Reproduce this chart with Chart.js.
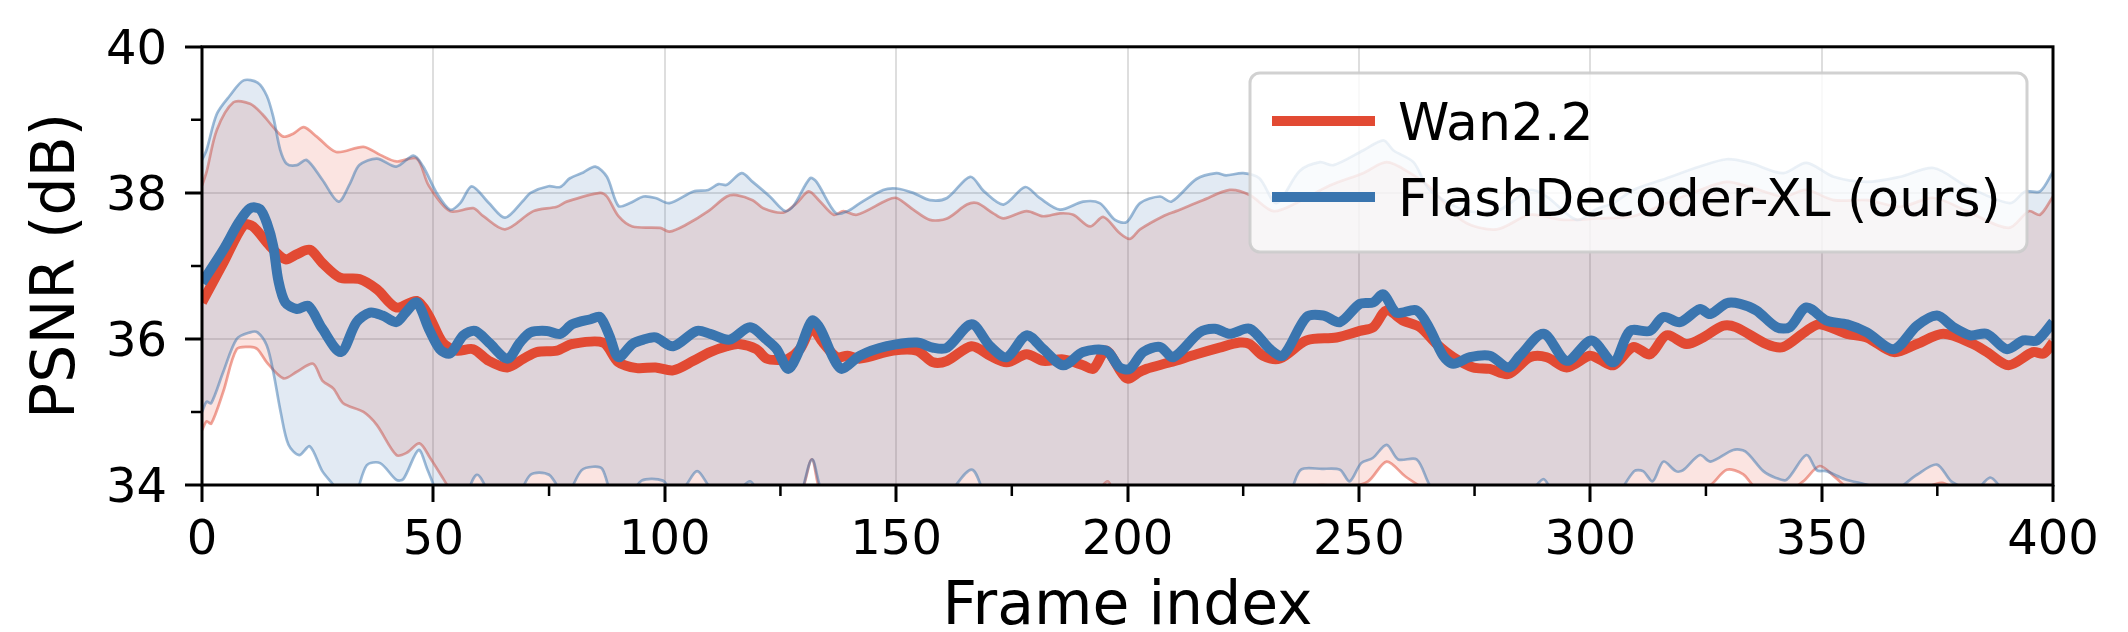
<!DOCTYPE html>
<html>
<head>
<meta charset="utf-8">
<script src="https://cdn.jsdelivr.net/npm/chart.js@4.4.1/dist/chart.umd.min.js"></script>
<style>
  html, body { margin: 0; padding: 0; background: #ffffff; }
  #wrap { width: 2128px; height: 632px; }
</style>
</head>
<body>
<div id="wrap"><canvas id="psnrChart" width="2128" height="632"></canvas></div>
<script>
// ---- data ----
const xTicks = [0, 50, 100, 150, 200, 250, 300, 350, 400];
const yTicks = [34, 36, 38, 40];

// Wan2.2 mean PSNR
const wanFrames = [0, 4.6, 9, 11, 14.7, 18, 20.5, 23.3, 26, 29.8, 34, 37.8, 42, 46.4, 49, 52, 55, 58.6, 62, 66,
  69.5, 72.3, 76.7, 80, 86.7, 90, 94, 98, 101.8, 106.2, 109.8, 113.4, 116, 119.8, 122, 124.5, 126.7, 129.2, 131.8, 134.2,
  137.2, 139.5, 142.2, 149.4, 154.5, 158, 161, 166.3, 170.3, 173.9, 178.2, 181.8, 186.1, 190.4, 192.6, 195.4, 199.8, 202.7, 204.1, 209.2,
  214.9, 219.9, 224.2, 226.4, 229.3, 232.9, 238.7, 245.2, 250.2, 253.1, 256, 259.6, 263.2, 266.8, 270.4, 274.7, 278.3, 282.3, 287, 290.6,
  294.9, 299.9, 302, 305, 309.3, 312.9, 316.5, 320.8, 324.4, 328.7, 331.5, 338.1, 341.7, 346.7, 349.6, 355.5, 359.8, 365.6, 370.6, 376.3,
  382.8, 385.7, 390.4, 395.7, 398, 400];
const wanMean = [36.5, 37.04, 37.56, 37.54, 37.27, 37.09, 37.16, 37.22, 37.04, 36.84, 36.82, 36.68, 36.43, 36.52, 36.32, 35.95, 35.84, 35.86, 35.7, 35.61,
  35.73, 35.82, 35.84, 35.93, 35.95, 35.68, 35.6, 35.61, 35.57, 35.7, 35.82, 35.9, 35.93, 35.86, 35.73, 35.71, 35.73, 35.86, 36.14, 35.95,
  35.75, 35.77, 35.73, 35.84, 35.84, 35.68, 35.7, 35.9, 35.77, 35.68, 35.79, 35.7, 35.72, 35.64, 35.59, 35.84, 35.46, 35.55, 35.59, 35.68,
  35.79, 35.88, 35.95, 35.93, 35.77, 35.73, 35.98, 36.02, 36.11, 36.16, 36.39, 36.25, 36.16, 35.93, 35.75, 35.61, 35.59, 35.52, 35.75, 35.75,
  35.61, 35.77, 35.72, 35.64, 35.89, 35.79, 36.05, 35.93, 36.02, 36.18, 36.16, 35.93, 35.89, 36.11, 36.2, 36.07, 36.02, 35.82, 35.93, 36.07,
  35.93, 35.82, 35.64, 35.82, 35.8, 35.95];

// FlashDecoder-XL mean PSNR
const oursFrames = [0, 4.6, 8, 10.4, 12.5, 14, 15.4, 16.5, 18, 20.5, 23, 26, 30, 33.4, 36.3, 39, 42, 44, 46.4, 49,
  51.4, 53.6, 56.5, 59, 62, 66, 68.7, 71, 74.5, 77.4, 80, 84, 86, 88, 90, 93, 95.4, 98, 101.8, 106.9,
  109.8, 114, 118.4, 122, 124.2, 126.7, 129.2, 131.8, 133.6, 136.5, 138.3, 142.2, 148, 154.5, 158, 161, 166.3, 170.3, 173.9, 178.2,
  181.8, 186.1, 190.4, 195.4, 198.3, 200.5, 203.4, 207, 209.9, 215.6, 218.9, 222.1, 226.4, 230.8, 233.6, 238.7, 242.3, 245.9, 250.2, 253.1,
  255.3, 258.1, 262.5, 265.3, 268.2, 270.4, 274, 278.3, 282.3, 284.8, 289.9, 294.9, 300.3, 305, 308.6, 312.9, 315.8, 319.4, 323.7, 325.9,
  329.5, 332.4, 335.9, 340.3, 343.1, 346.7, 351.1, 355.5, 359.8, 365.6, 370.6, 374.9, 378.5, 382.1, 385.7, 390, 393.6, 396.5, 400];
const oursMean = [36.77, 37.22, 37.6, 37.79, 37.78, 37.59, 37.27, 36.8, 36.5, 36.41, 36.45, 36.14, 35.82, 36.23, 36.36, 36.32, 36.23, 36.36, 36.5, 36.14,
  35.86, 35.8, 36.05, 36.11, 35.95, 35.73, 35.95, 36.09, 36.11, 36.07, 36.2, 36.27, 36.3, 36.05, 35.75, 35.93, 35.99, 36.02, 35.9, 36.11,
  36.07, 35.99, 36.16, 35.99, 35.86, 35.59, 35.86, 36.25, 36.14, 35.73, 35.59, 35.77, 35.9, 35.95, 35.88, 35.88, 36.2, 35.9, 35.75, 36.05,
  35.86, 35.64, 35.82, 35.84, 35.61, 35.59, 35.82, 35.89, 35.75, 36.09, 36.14, 36.07, 36.14, 35.86, 35.77, 36.3, 36.32, 36.23, 36.48, 36.5,
  36.61, 36.36, 36.39, 36.14, 35.77, 35.66, 35.75, 35.77, 35.61, 35.77, 36.07, 35.7, 35.98, 35.68, 36.11, 36.11, 36.3, 36.23, 36.41, 36.34,
  36.49, 36.48, 36.39, 36.16, 36.16, 36.43, 36.25, 36.2, 36.09, 35.86, 36.18, 36.32, 36.16, 36.05, 36.07, 35.86, 35.98, 35.98, 36.23];

// Wan2.2 band (upper / lower)
const wanHiFrames = [0, 1, 3.2, 6.8, 10.4, 13, 15.4, 17.6, 19.7, 22, 24.8, 29, 34.9, 38.5, 42, 46.4, 49, 53.6, 58.6, 60.8,
  65.5, 71.6, 76.7, 78.8, 86, 87.5, 90, 93, 99, 101, 104.5, 109.4, 113.4, 115.5, 119, 121.3, 125.6, 128.5, 131.1, 133.3,
  136.5, 138.6, 141.5, 148, 150.1, 153.7, 157.3, 161, 165.3, 167.5, 171, 173.2, 178.2, 181.8, 185.4, 188.3, 191.9, 194.8, 198.3, 200.5,
  202.7, 207.7, 210.5, 216.3, 222.1, 226.4, 231.5, 236.5, 243.7, 250.9, 256, 261.1, 265.3, 272.6, 279.8, 287, 294.2, 301.4, 309.3, 316.5,
  323.7, 329.5, 334.5, 341.7, 346.7, 352.6, 359.8, 367, 374.2, 381.4, 390.4, 394.8, 397.2, 400];
const wanHi = [38.1, 38.29, 38.86, 39.24, 39.22, 39.08, 38.9, 38.77, 38.81, 38.9, 38.77, 38.56, 38.63, 38.52, 38.43, 38.47, 38.1, 37.75, 37.79, 37.68,
  37.5, 37.75, 37.81, 37.88, 38.0, 37.95, 37.68, 37.54, 37.52, 37.47, 37.56, 37.75, 37.95, 37.97, 37.9, 37.79, 37.73, 37.86, 38.02, 37.9,
  37.7, 37.75, 37.7, 37.9, 37.93, 37.77, 37.63, 37.65, 37.84, 37.86, 37.72, 37.65, 37.75, 37.68, 37.72, 37.7, 37.54, 37.67, 37.45, 37.37,
  37.5, 37.68, 37.75, 37.9, 38.04, 37.97, 37.75, 37.86, 38.1, 38.27, 38.42, 38.27, 38.08, 37.61, 37.5, 37.7, 37.63, 37.65, 37.68, 37.86,
  38.04, 38.15, 38.08, 37.95, 38.04, 37.9, 37.9, 37.81, 37.93, 37.75, 37.52, 37.75, 37.7, 37.95];
const wanLoFrames = [0, 1, 2, 4.6, 7.5, 10.4, 12, 14, 17.6, 20.5, 24, 26, 28.4, 30.5, 34.9, 37.8, 42, 44.2, 47, 49.3,
  52, 54, 58, 70, 85, 100, 115, 126, 129.5, 131.8, 134, 140, 160, 180, 192, 195.7, 198, 210, 225, 234,
  242, 248, 252, 256, 260, 264, 270, 290, 310, 318, 322, 326, 329.5, 333, 336, 342, 346, 349.6, 353, 356,
  365, 372, 376, 380, 390, 400];
const wanLo = [34.75, 34.87, 34.84, 35.28, 35.86, 35.89, 35.86, 35.68, 35.46, 35.55, 35.66, 35.43, 35.32, 35.12, 35.0, 34.82, 34.41, 34.44, 34.57, 34.37,
  34.1, 33.9, 33.6, 33.6, 33.7, 33.6, 33.7, 33.7, 33.9, 34.35, 33.85, 33.6, 33.6, 33.7, 33.8, 34.05, 33.8, 33.7, 33.8, 33.95,
  34.0, 33.98, 34.05, 34.32, 34.12, 33.95, 33.7, 33.7, 33.8, 33.95, 33.9, 34.0, 34.21, 34.15, 33.95, 33.9, 34.05, 34.26, 34.1, 33.95,
  33.8, 33.95, 34.03, 33.9, 33.7, 33.7];

// FlashDecoder-XL band (upper / lower)
const oursHiFrames = [0, 1, 3.2, 6, 9, 12, 14, 15.4, 16.9, 18.3, 20.5, 22.6, 26, 29.5, 32, 34, 37.8, 42, 45.7, 47.8,
  50.7, 53.6, 55.8, 58.3, 62, 65.5, 69.5, 71, 74.9, 77.4, 79.5, 82.4, 85, 87.5, 90, 92.5, 95.4, 98, 101, 106.2,
  109.4, 111.6, 113.4, 116.6, 119, 122.7, 126, 127.8, 131.4, 132.8, 137, 139.5, 142.2, 147.2, 150.1, 153.7, 157.3, 161, 166, 169,
  173.2, 177.9, 181, 185.4, 190.4, 194, 197.3, 199.8, 202.7, 207, 209.5, 214.9, 219.2, 221.3, 225, 228.5, 232.2, 237.2, 241.6, 244.5,
  250.9, 255.3, 257.5, 261.8, 265.3, 272.6, 279.8, 287, 290.6, 297.1, 301.4, 305, 309.3, 316.5, 323.7, 329.5, 334.5, 341.7, 346.7, 352.6,
  359.8, 367, 374.2, 381.4, 390.7, 394, 397.2, 400];
const oursHi = [38.45, 38.59, 39.08, 39.33, 39.54, 39.51, 39.33, 39.04, 38.59, 38.4, 38.38, 38.45, 38.18, 37.88, 38.13, 38.38, 38.47, 38.36, 38.51, 38.36,
  38.0, 37.77, 37.86, 38.09, 37.86, 37.66, 37.9, 38.0, 38.09, 38.08, 38.2, 38.28, 38.36, 38.22, 37.82, 37.86, 37.95, 37.93, 37.86, 38.02,
  38.04, 38.12, 38.11, 38.27, 38.15, 37.95, 37.75, 37.82, 38.2, 38.15, 37.72, 37.75, 37.86, 38.04, 38.06, 38.0, 37.9, 37.93, 38.22, 38.02,
  37.84, 38.08, 37.93, 37.77, 37.88, 37.86, 37.63, 37.6, 37.86, 37.95, 37.88, 38.19, 38.27, 38.24, 38.27, 38.2, 37.86, 38.3, 38.42, 38.38,
  38.58, 38.72, 38.58, 38.42, 38.04, 37.77, 37.75, 38.04, 37.95, 37.63, 37.78, 37.86, 38.04, 38.2, 38.36, 38.46, 38.41, 38.27, 38.41, 38.22,
  38.15, 38.22, 38.34, 38.09, 37.86, 38.02, 38.02, 38.29];
const oursLoFrames = [0, 1, 2, 4.6, 7.5, 10.4, 12, 14, 15.4, 17, 18.7, 21, 23.3, 26, 28.4, 30.5, 33, 35.6, 38.5, 42,
  43.5, 46.8, 48.6, 50.7, 53, 56, 59.4, 63, 67, 71, 75, 78.5, 82, 84.5, 86.5, 89, 92, 95, 99.6, 101.5,
  104, 107, 110, 114, 118.4, 121, 126, 129, 131.8, 134, 138, 145, 152, 160, 166.3, 170, 175, 178, 183, 190,
  195, 200, 210, 220, 230, 235, 237.5, 242, 245.9, 248, 250.5, 253, 256, 258.5, 262.5, 265.3, 268, 275, 282, 287,
  289.9, 292, 300, 305, 309.5, 311.4, 313.5, 315.8, 318.5, 320, 323.7, 326, 330.9, 333.5, 337.4, 340, 342.4, 346.7, 349, 351,
  355, 360, 365, 370.6, 374.9, 378, 381, 383, 386.4, 389, 395, 400];
const oursLo = [35.0, 35.14, 35.12, 35.55, 36.0, 36.09, 36.09, 35.91, 35.55, 35.0, 34.55, 34.41, 34.53, 34.19, 34.0, 33.8, 33.85, 34.27, 34.3, 34.07,
  34.08, 34.48, 34.23, 33.9, 33.6, 33.7, 34.14, 33.8, 33.7, 34.14, 34.14, 33.85, 34.2, 34.25, 34.22, 33.8, 33.8, 34.06, 34.06, 33.9,
  33.95, 34.19, 33.95, 33.8, 34.05, 33.8, 33.6, 33.8, 34.35, 33.9, 33.6, 33.7, 33.7, 33.8, 34.21, 33.8, 33.8, 33.98, 33.7, 33.7,
  33.85, 33.6, 33.7, 33.8, 33.7, 33.9, 34.21, 34.22, 34.21, 34.05, 34.3, 34.37, 34.55, 34.35, 34.35, 34.0, 33.8, 33.7, 33.8, 33.9,
  34.08, 33.9, 33.7, 33.8, 34.19, 34.19, 34.05, 34.32, 34.19, 34.2, 34.41, 34.32, 34.48, 34.46, 34.19, 34.1, 34.07, 34.41, 34.2, 34.19,
  34.08, 34.0, 33.9, 34.14, 34.28, 34.05, 33.95, 33.9, 34.1, 33.95, 33.7, 33.7];

// ---- styling ----
const RED = '#e24a33';
const BLUE = '#3a75af';
const RED_FILL = 'rgba(226, 74, 51, 0.15)';
const BLUE_FILL = 'rgba(58, 117, 175, 0.15)';
const RED_EDGE = 'rgba(226, 74, 51, 0.5)';
const BLUE_EDGE = 'rgba(58, 117, 175, 0.5)';

Chart.defaults.font.family = "'DejaVu Sans', sans-serif";
Chart.defaults.color = '#000';

function pts(xs, ys) {
  return xs.map((x, i) => ({ x: x, y: ys[i] }));
}

function bandLine(xs, ys, edge, fillColor, fillTarget) {
  return {
    data: pts(xs, ys),
    borderColor: edge,
    borderWidth: 2.7,
    backgroundColor: fillColor,
    fill: fillTarget,
    pointRadius: 0,
    tension: 0.3,
    clip: 0,
    isBand: true
  };
}

// minor ticks, spines and the in-plot legend
const axesPlugin = {
  id: 'axesExtras',
  afterDatasetsDraw(chart) {
    const { ctx, chartArea: a, scales } = chart;
    ctx.save();
    ctx.strokeStyle = '#000';
    ctx.lineWidth = 2.5;
    ctx.beginPath();
    for (let v = 25; v < 400; v += 50) {
      const px = scales.x.getPixelForValue(v);
      ctx.moveTo(px, a.bottom);
      ctx.lineTo(px, a.bottom + 11);
    }
    for (let v = 35; v < 40; v += 2) {
      const py = scales.y.getPixelForValue(v);
      ctx.moveTo(a.left, py);
      ctx.lineTo(a.left - 11, py);
    }
    ctx.stroke();
    ctx.lineWidth = 3;
    ctx.strokeRect(a.left, a.top, a.right - a.left, a.bottom - a.top);
    ctx.restore();
  },
  afterDraw(chart) {
    const ctx = chart.ctx;
    const box = { x: 1250, y: 73, w: 777, h: 179, r: 10 };
    ctx.save();
    ctx.beginPath();
    ctx.roundRect(box.x, box.y, box.w, box.h, box.r);
    ctx.fillStyle = 'rgba(255, 255, 255, 0.8)';
    ctx.fill();
    ctx.lineWidth = 3;
    ctx.strokeStyle = 'rgba(204, 204, 204, 0.9)';
    ctx.stroke();
    const entries = [chart.data.datasets[1], chart.data.datasets[0]];
    const rowY = [121, 197];
    ctx.font = "52px 'DejaVu Sans'";
    ctx.textBaseline = 'alphabetic';
    ctx.textAlign = 'left';
    entries.forEach((ds, i) => {
      ctx.beginPath();
      ctx.strokeStyle = ds.borderColor;
      ctx.lineWidth = 10;
      ctx.moveTo(1272, rowY[i]);
      ctx.lineTo(1375, rowY[i]);
      ctx.stroke();
      ctx.fillStyle = '#000';
      ctx.fillText(ds.label, 1398, rowY[i] + 19);
    });
    ctx.restore();
  }
};

const gridColor = 'rgba(0, 0, 0, 0.13)';

const psnrChart = new Chart(document.getElementById('psnrChart'), {
  type: 'line',
  data: {
    datasets: [
      {
        label: 'FlashDecoder-XL (ours)',
        data: pts(oursFrames, oursMean),
        borderColor: BLUE,
        borderWidth: 10,
        fill: false,
        pointRadius: 0,
        tension: 0.3,
        borderJoinStyle: 'round',
        clip: 0
      },
      {
        label: 'Wan2.2',
        data: pts(wanFrames, wanMean),
        borderColor: RED,
        borderWidth: 10,
        fill: false,
        pointRadius: 0,
        tension: 0.3,
        borderJoinStyle: 'round',
        clip: 0
      },
      bandLine(oursHiFrames, oursHi, BLUE_EDGE, BLUE_FILL, '+1'),
      bandLine(oursLoFrames, oursLo, BLUE_EDGE, 'rgba(0,0,0,0)', false),
      bandLine(wanHiFrames, wanHi, RED_EDGE, RED_FILL, '+1'),
      bandLine(wanLoFrames, wanLo, RED_EDGE, 'rgba(0,0,0,0)', false)
    ]
  },
  options: {
    responsive: false,
    animation: false,
    devicePixelRatio: 1,
    layout: { padding: { top: 46, right: 75, left: 0, bottom: 0 } },
    plugins: {
      legend: { display: false },
      tooltip: { enabled: false }
    },
    scales: {
      x: {
        type: 'linear',
        min: 0,
        max: 400,
        afterFit(scale) { scale.height = 147; },
        afterBuildTicks(scale) { scale.ticks = xTicks.map(v => ({ value: v })); },
        ticks: {
          autoSkip: false,
          maxRotation: 0,
          padding: 11,
          font: { size: 48 },
          color: '#000'
        },
        grid: {
          color: gridColor,
          lineWidth: 2,
          tickLength: 17,
          tickWidth: 3,
          tickColor: '#000'
        },
        border: { display: false },
        title: {
          display: true,
          text: 'Frame index',
          font: { size: 60, lineHeight: 0.79 },
          padding: 0,
          color: '#000'
        }
      },
      y: {
        min: 34,
        max: 40,
        afterFit(scale) { scale.width = 202; },
        afterBuildTicks(scale) { scale.ticks = yTicks.map(v => ({ value: v })); },
        ticks: {
          padding: 18,
          labelOffset: 5,
          font: { size: 48 },
          color: '#000'
        },
        grid: {
          color: gridColor,
          lineWidth: 2,
          tickLength: 17,
          tickWidth: 3,
          tickColor: '#000'
        },
        border: { display: false },
        title: {
          display: true,
          text: 'PSNR (dB)',
          font: { size: 60 },
          padding: { top: 22, bottom: 0 },
          color: '#000'
        }
      }
    }
  },
  plugins: [axesPlugin]
});
</script>
</body>
</html>
